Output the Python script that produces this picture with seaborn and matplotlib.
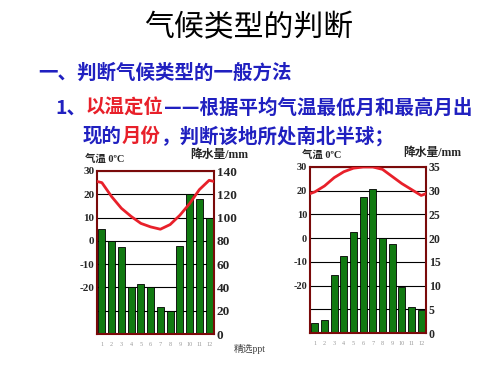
import numpy as np
import pandas as pd
import matplotlib
matplotlib.use("Agg")
import matplotlib.pyplot as plt
import seaborn as sns

# ---- data ----
month_labels = [str(m) for m in range(1, 13)]
left_precip = [90, 80, 75, 40, 43, 40, 23, 20, 76, 120, 116, 100]
left_temp = [25, 19, 14, 10.5, 7.5, 6, 5, 7, 11, 16, 22, 26]
right_precip = [2.2, 2.7, 12.3, 16.2, 21.2, 28.7, 30.4, 20, 18.8, 9.8, 5.5, 4.9]
right_temp = [19.5, 22, 25.5, 28, 29.5, 30, 30, 29, 26, 23, 20.5, 18]
temp_ticks = [-20, -10, 0, 10, 20, 30]
left_precip_ticks = [0, 20, 40, 60, 80, 100, 120, 140]
right_precip_ticks = [0, 5, 10, 15, 20, 25, 30, 35]

sns.set_theme(style="white")
plt.rcParams["font.family"] = ["Liberation Serif", "Noto Sans CJK SC", "DejaVu Sans"]
plt.rcParams["axes.unicode_minus"] = False

fig = plt.figure(figsize=(5, 3.75), dpi=100)
fig.patch.set_facecolor("white")

BLUE = "#2020c0"
RED = "#e8202a"
FRAME = "#7a0a0a"
CJK = ["Noto Sans CJK SC", "DejaVu Sans"]

# ---- header text ----
fig.text(0.497, 0.925, "气候类型的判断", ha="center", va="center",
         fontsize=21.5, color="black", family=CJK)

renderer = fig.canvas.get_renderer()


def seg_text(x, y, segments, size=14):
    for s, c in segments:
        t = fig.text(x, y, s, ha="left", va="center", fontsize=size,
                     color=c, family=CJK, fontweight="bold")
        bb = t.get_window_extent(renderer)
        x = bb.x1 / fig.bbox.width


seg_text(0.076, 1 - 73 / 375, [("一、判断气候类型的一般方法", BLUE)])
seg_text(0.110, 1 - 108 / 375, [("1、", BLUE), ("以温定位", RED),
                                ("——根据平均气温最低月和最高月出", BLUE)])
seg_text(0.166, 1 - 136 / 375, [("现的", BLUE), ("月份", RED),
                                ("，判断该地所处南北半球；", BLUE)])


def draw_chart(rect, precip, temp, pticks, tsize, psize):
    ax = fig.add_axes(rect)
    df = pd.DataFrame({"month": month_labels, "precip": precip})
    sns.barplot(data=df, x="month", y="precip", color="#117a11",
                saturation=1, edgecolor="black", linewidth=0.6,
                width=0.72, ax=ax)
    ax.set_xlim(-0.5, 11.5)
    ax.set_ylim(0, pticks[-1])
    ax.set_yticks(pticks)
    ax.yaxis.tick_right()
    ax.grid(axis="y", color="black", linewidth=0.8)
    ax.grid(axis="x", visible=False)
    ax.set_axisbelow(True)
    ax.set_xlabel("")
    ax.set_ylabel("")
    ax.tick_params(axis="y", length=0, pad=2, labelsize=psize)
    ax.tick_params(axis="x", length=0, pad=6, labelsize=4.5, labelcolor="#999999")
    for lbl in ax.get_yticklabels():
        lbl.set_fontweight("bold")
    for sp in ax.spines.values():
        sp.set_color(FRAME)
        sp.set_linewidth(1.5)

    tw = fig.add_axes(rect)
    tw.patch.set_visible(False)
    xs = np.arange(-1, 13)
    ts = [temp[-1]] + list(temp) + [temp[0]]
    sns.lineplot(x=xs, y=ts, ax=tw, color=RED, linewidth=2)
    tw.set_xlim(-0.5, 11.5)
    tw.set_ylim(-40, 30)
    tw.set_yticks(temp_ticks)
    tw.set_xticks([])
    tw.tick_params(axis="y", length=0, pad=2, labelsize=tsize)
    for lbl in tw.get_yticklabels():
        lbl.set_fontweight("bold")
    for sp in tw.spines.values():
        sp.set_visible(False)
    return ax


draw_chart([0.194, 0.1093, 0.234, 0.4347], left_precip, left_temp,
           left_precip_ticks, 8, 9.5)
draw_chart([0.620, 0.112, 0.232, 0.4427], right_precip, right_temp,
           right_precip_ticks, 7.5, 8.5)

# axis titles
fig.text(85 / 500, 1 - 159 / 375, "气温 0ºC", ha="left", va="center",
         fontsize=7.5, fontweight="bold")
fig.text(190 / 500, 1 - 155 / 375, "降水量/mm", ha="left", va="center",
         fontsize=8.5, fontweight="bold")
fig.text(302 / 500, 1 - 155 / 375, "气温 0ºC", ha="left", va="center",
         fontsize=7.5, fontweight="bold")
fig.text(403 / 500, 1 - 153 / 375, "降水量/mm", ha="left", va="center",
         fontsize=8.5, fontweight="bold")

fig.text(250 / 500, 1 - 349 / 375, "精选ppt", ha="center", va="center",
         fontsize=7, color="#444444")

fig.savefig("out.png", dpi=100)
